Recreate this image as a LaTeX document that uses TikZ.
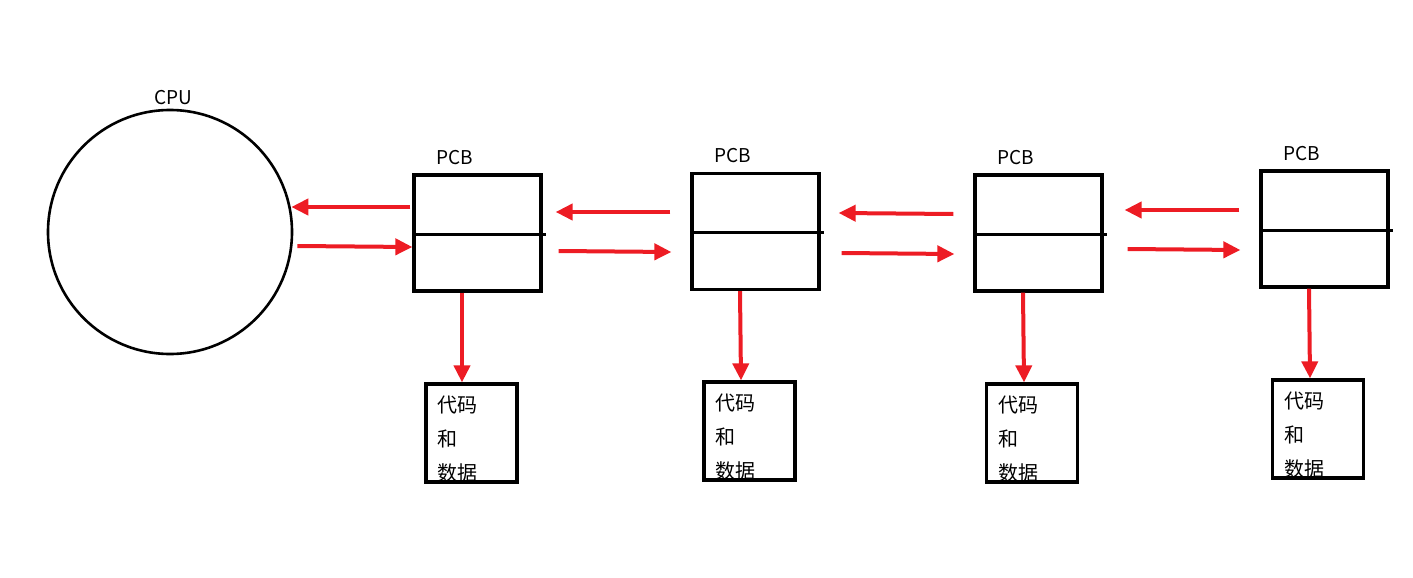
\documentclass[tikz,border=0pt]{standalone}
\usepackage{fontspec}
\setmainfont{Noto Sans CJK SC}
\usetikzlibrary{arrows.meta}
\definecolor{pred}{HTML}{ED1C24}
\tikzset{
  pcb/.style={draw=black, line width=3.2pt, minimum width=127pt, minimum height=116pt, inner sep=0pt},
  codebox/.style={draw=black, line width=3.2pt, minimum width=91pt, minimum height=98pt, inner sep=0pt},
  lbl/.style={font=\fontsize{19pt}{22pt}\selectfont, inner sep=0pt},
  codetxt/.style={font=\fontsize{20pt}{34pt}\selectfont, align=left, inner sep=0pt, anchor=west},
  rarrow/.style={draw=pred, line width=4pt, -{Triangle[length=17pt,width=16pt]}},
}
\begin{document}
\begin{tikzpicture}[x=1pt,y=-1pt]
\useasboundingbox (0,0) rectangle (1413,578);
% CPU
\node[draw=black, line width=2.6pt, circle, minimum size=244pt, inner sep=0pt] (cpu) at (170,232) {};
\node[lbl] (cpul) at (173,98) {CPU};
% PCB boxes
\node[pcb] (p1) at (477.5,233) {};
\node[pcb] (p2) at (755.5,231.5) {};
\node[pcb] (p3) at (1038.5,233) {};
\node[pcb] (p4) at (1324.5,229) {};
\foreach \i/\dy in {1/-1,2/-0.5,3/-1,4/-1} {
  \draw[line width=3pt] ([yshift=\dy pt]p\i.west) -- ([xshift=3pt,yshift=\dy pt]p\i.east);
}
\node[lbl] (l1) at (455,158) {PCB};
\node[lbl] (l2) at (733,156) {PCB};
\node[lbl] (l3) at (1016,158) {PCB};
\node[lbl] (l4) at (1302,154) {PCB};
% code boxes
\node[codebox] (c1) at (471.5,433) {};
\node[codebox] (c2) at (749.5,431) {};
\node[codebox] (c3) at (1032,433) {};
\node[codebox] (c4) at (1318,429) {};
\node[codetxt] (t1) at (437,439) {代码\\和\\数据};
\node[codetxt] (t2) at (715,437) {代码\\和\\数据};
\node[codetxt] (t3) at (998,439) {代码\\和\\数据};
\node[codetxt] (t4) at (1284,435) {代码\\和\\数据};
% horizontal arrows
\draw[rarrow] ([xshift=-2pt,yshift=26pt]p1.west) -- ([xshift=-2pt,yshift=25pt]cpu.east);
\draw[rarrow] ([xshift=4pt,yshift=-14pt]cpu.east) -- ([yshift=-14pt]p1.west);
\draw[rarrow] ([xshift=-20pt,yshift=19.5pt]p2.west) -- ([xshift=13pt,yshift=21pt]p1.east);
\draw[rarrow] ([xshift=16pt,yshift=-18pt]p1.east) -- ([xshift=-19pt,yshift=-20.5pt]p2.west);
\draw[rarrow] ([xshift=-20pt,yshift=19pt]p3.west) -- ([xshift=18pt,yshift=18.5pt]p2.east);
\draw[rarrow] ([xshift=21pt,yshift=-21.5pt]p2.east) -- ([xshift=-19pt,yshift=-21pt]p3.west);
\draw[rarrow] ([xshift=-20pt,yshift=19pt]p4.west) -- ([xshift=21pt,yshift=23pt]p3.east);
\draw[rarrow] ([xshift=24pt,yshift=-16pt]p3.east) -- ([xshift=-19pt,yshift=-21pt]p4.west);
% down arrows
\draw[rarrow] ([xshift=-15.5pt]p1.south) -- ([xshift=-9.5pt]c1.north);
\draw[rarrow] ([xshift=-15.5pt]p2.south) -- ([xshift=-8.5pt]c2.north);
\draw[rarrow] ([xshift=-15.5pt]p3.south) -- ([xshift=-8pt]c3.north);
\draw[rarrow] ([xshift=-15.5pt]p4.south) -- ([xshift=-8pt]c4.north);
\end{tikzpicture}
\end{document}
